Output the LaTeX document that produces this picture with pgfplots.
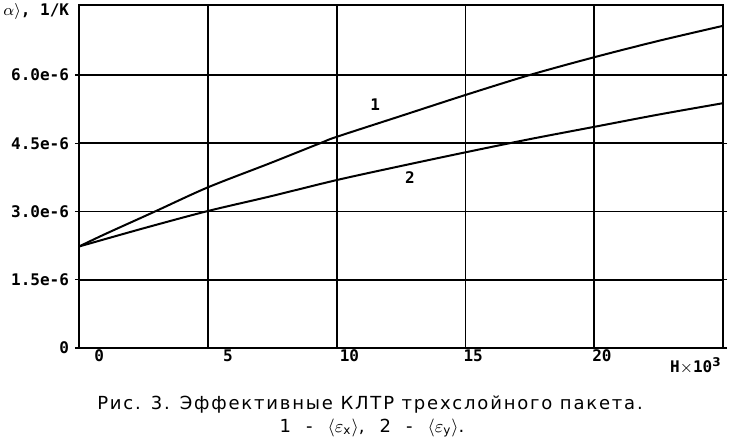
\documentclass[border=0pt]{standalone}
\usepackage{fontspec}
\setmainfont{DejaVu Sans}
\newfontfamily\tickfont{DejaVu Sans Mono}
\newfontfamily\capfont[LetterSpace=10]{DejaVu Sans}
\usepackage{pgfplots}
\pgfplotsset{compat=1.18}
\pgfplotstableread{
x y
0 2.23e-6
1 2.50e-6
2.95 3.00e-6
5 3.53e-6
7.41 4.06e-6
9.36 4.50e-6
10 4.64e-6
12.5 5.10e-6
15 5.56e-6
17.5 6.00e-6
20 6.39e-6
22.5 6.75e-6
25 7.08e-6
}\curveone
\pgfplotstableread{
x y
0 2.23e-6
2.5 2.63e-6
5 3.01e-6
7.41 3.33e-6
10 3.69e-6
12.5 4.00e-6
15 4.30e-6
17.5 4.59e-6
20 4.86e-6
22.5 5.13e-6
25 5.38e-6
}\curvetwo
\begin{document}
\begin{tikzpicture}[x=0.5pt,y=0.5pt]
\useasboundingbox (0,0) rectangle (731,442);
\begin{axis}[
  at={(39.5pt,47pt)}, anchor=south west,
  scale only axis, width=322pt, height=171.5pt,
  xmin=0, xmax=25, ymin=0, ymax=7.538e-6,
  clip=false,
  axis line style={black, line width=1pt},
  grid=major,
  major grid style={black, line width=0.9pt},
  xtick={0,5,10,15,20,25},
  xticklabels={},
  x tick style={draw=none},
  extra x ticks={0.78,5.78,10.5,15.3,20.3},
  extra x tick labels={0,5,10,15,20},
  extra x tick style={grid=none, major tick length=0pt, tick style={draw=none}},
  xticklabel style={font=\tickfont\bfseries\fontsize{8}{9}\selectfont, yshift=2.5pt},
  ytick={0,1.5e-6,3e-6,4.5e-6,6e-6},
  yticklabels={0,1.5e-6,3.0e-6,4.5e-6,6.0e-6},
  yticklabel style={font=\tickfont\bfseries\fontsize{8}{9}\selectfont, xshift=0.5pt},
  y tick style={black, line width=0.6pt},
  tick align=outside,
  major tick length=2pt,
  scaled y ticks=false,
]
\addplot[black, line width=1pt, smooth] table[x=x,y=y] {\curveone};
\addplot[black, line width=1pt, smooth] table[x=x,y=y] {\curvetwo};
\node[font=\tickfont\bfseries\fontsize{8}{9}\selectfont] at (axis cs:11.5,5.34e-6) {1};
\node[font=\tickfont\bfseries\fontsize{8}{9}\selectfont] at (axis cs:12.85,3.74e-6) {2};
\node[font=\tickfont\bfseries\fontsize{8}{9}\selectfont, anchor=north] at (axis cs:23.95,-0.06e-6) {H$\times$10$^{\mathbf{3}}$};
\end{axis}
\node[font=\tickfont\bfseries\fontsize{8}{9}\selectfont, anchor=north west, inner sep=1pt] at (1,441) {$\alpha\rangle$, 1/K};
\node[font=\capfont\small] at (370,37) {Рис. 3. Эффективные КЛТР трехслойного пакета.};
\node[font=\capfont\small] at (372,14) {1\ \ -\ \ $\langle\varepsilon_{\mathrm{x}}\rangle$,\ \ 2\ \ -\ \ $\langle\varepsilon_{\mathrm{y}}\rangle$.};
\end{tikzpicture}
\end{document}
